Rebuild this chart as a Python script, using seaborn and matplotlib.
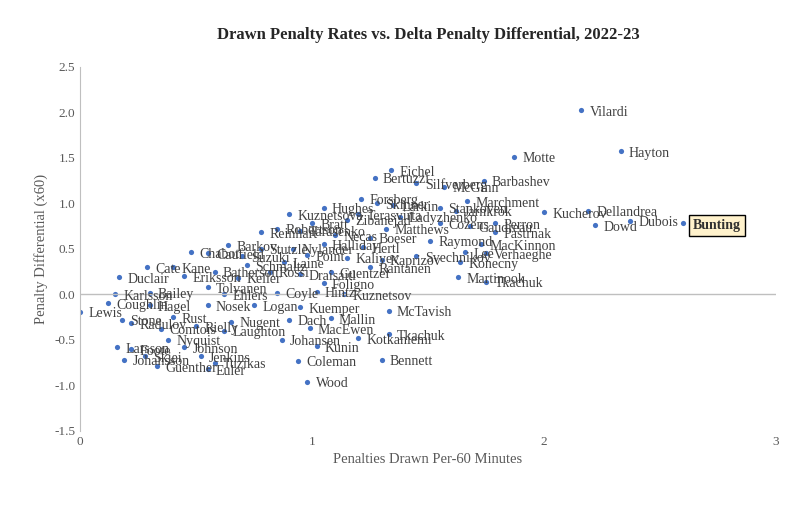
import pandas as pd
import matplotlib.pyplot as plt
import seaborn as sns

sns.set_style('white')
plt.rcParams['font.family'] = ['Liberation Serif', 'DejaVu Serif']  # 衬线字体
plt.rcParams['axes.unicode_minus'] = False


def plot_penalty_scatter(out_path: str = "out.png") -> None:
    """绘制制造犯规率与犯规差散点图"""
    # 球员数据 (每60分钟制造犯规, 犯规差)
    players = [
        ('Vilardi', 2.16, 2.02), ('Hayton', 2.33, 1.57), ('Motte', 1.87, 1.51),
        ('Dellandrea', 2.19, 0.92), ('Kucherov', 2.00, 0.90), ('Dowd', 2.22, 0.76),
        ('Dubois', 2.37, 0.81), ('Barbashev', 1.74, 1.25), ('McGinn', 1.57, 1.18),
        ('Silfverberg', 1.45, 1.22), ('Eichel', 1.34, 1.36), ('Bertuzzi', 1.27, 1.28),
        ('Marchment', 1.67, 1.02), ('Stankoven', 1.55, 0.95), ('Jarnkrok', 1.62, 0.92),
        ('Perron', 1.79, 0.78), ('Pastrnak', 1.79, 0.68), ('Cozens', 1.55, 0.78),
        ('Gaudreau', 1.68, 0.75), ('Raymond', 1.51, 0.59), ('MacKinnon', 1.73, 0.55),
        ('Verhaeghe', 1.75, 0.45), ('Lee', 1.66, 0.46), ('Konecny', 1.64, 0.35),
        ('Svechnikov', 1.45, 0.42), ('Martinook', 1.63, 0.19), ('Tkachuk', 1.75, 0.14),
        ('Forsberg', 1.21, 1.05), ('Skinner', 1.28, 1.00), ('Larkin', 1.35, 0.98),
        ('Hughes', 1.05, 0.95), ('Terasvirta', 1.20, 0.88), ('Zibanejad', 1.15, 0.82),
        ('Ladyzhenko', 1.38, 0.85), ('Matthews', 1.32, 0.72), ('Kuznetsova', 0.90, 0.88),
        ('Bratt', 1.00, 0.78), ('Robertson', 0.85, 0.72), ('Tarasenko', 0.95, 0.70),
        ('Reinhart', 0.78, 0.68), ('Necas', 1.10, 0.65), ('Boeser', 1.25, 0.62),
        ('Halliday', 1.05, 0.55), ('Hertl', 1.22, 0.52), ('Nylander', 0.92, 0.50),
        ('Barkov', 0.64, 0.54), ('Stutzle', 0.78, 0.50), ('Caufield', 0.55, 0.45),
        ('Chabot', 0.48, 0.46), ('Point', 0.98, 0.43), ('Kaliyev', 1.15, 0.40),
        ('Suzuki', 0.70, 0.42), ('Laine', 0.88, 0.35), ('Kaprizov', 1.30, 0.38),
        ('Rantanen', 1.25, 0.30), ('Schmaltz', 0.72, 0.32), ('Cate', 0.29, 0.30),
        ('Kane', 0.40, 0.30), ('Draisaitl', 0.95, 0.22), ('Duclair', 0.17, 0.19),
        ('Eriksson', 0.45, 0.20), ('Keller', 0.68, 0.18), ('Rossi', 0.82, 0.25),
        ('Guentzel', 1.08, 0.24), ('Batherson', 0.58, 0.25), ('Foligno', 1.05, 0.12),
        ('Kuznetsov', 1.14, 0.00), ('Karlsson', 0.15, 0.00), ('Bailey', 0.30, 0.02),
        ('Ehlers', 0.62, 0.00), ('Coyle', 0.85, 0.02), ('Hintz', 1.02, 0.03),
        ('Tolvanen', 0.55, 0.08), ('Lewis', 0.00, -0.19), ('Coughlin', 0.12, -0.10),
        ('Hagel', 0.30, -0.12), ('Nosek', 0.55, -0.12), ('Logan', 0.75, -0.12),
        ('Kuemper', 0.95, -0.14), ('Stone', 0.18, -0.28), ('Rust', 0.40, -0.25),
        ('Nugent', 0.65, -0.30), ('Dach', 0.90, -0.28), ('Mallin', 1.08, -0.26),
        ('Radulov', 0.22, -0.32), ('Rielly', 0.50, -0.35), ('Comtois', 0.35, -0.38),
        ('Laughton', 0.62, -0.40), ('McTavish', 1.33, -0.18), ('Tkachuk', 1.33, -0.44),
        ('Kotkaniemi', 1.20, -0.48), ('Bennett', 1.30, -0.72), ('Coleman', 0.94, -0.73),
        ('Wood', 0.98, -0.96), ('Johansen', 0.87, -0.50), ('Kunin', 1.02, -0.57),
        ('MacEwen', 0.99, -0.37), ('Nyquist', 0.38, -0.50), ('Larsson', 0.16, -0.58),
        ('Foote', 0.22, -0.60), ('Johnson', 0.45, -0.58), ('Johansson', 0.19, -0.72),
        ('Jenkins', 0.52, -0.68), ('Guenther', 0.33, -0.79), ('Tuzikas', 0.58, -0.75),
        ('Euler', 0.55, -0.82), ('Skjei', 0.28, -0.68),
    ]
    df = pd.DataFrame(players, columns=['name', 'drawn', 'diff'])

    fig, ax = plt.subplots(figsize=(8, 5.13), dpi=100)
    sns.scatterplot(data=df, x='drawn', y='diff', color='#4472C4', s=14,
                    linewidth=0, ax=ax)
    ax.scatter([2.60], [0.78], color='#4472C4', s=14, linewidth=0)  # Bunting

    for _, row in df.iterrows():
        ax.annotate(row['name'], (row['drawn'], row['diff']), xytext=(6, -4),
                    textcoords='offset points', fontsize=10, color='#404040')
    ax.annotate('Bunting', (2.60, 0.78), xytext=(7, -4), textcoords='offset points',
                fontsize=10, fontweight='bold', color='#303030',
                bbox=dict(boxstyle='square,pad=0.3', fc='#FFF2CC', ec='black', lw=1))

    ax.set_xlim(0, 3)
    ax.set_ylim(-1.5, 2.5)
    ax.set_xticks([0, 1, 2, 3])
    ax.set_yticks([-1.5, -1.0, -0.5, 0.0, 0.5, 1.0, 1.5, 2.0, 2.5])
    ax.set_yticklabels([f'{v:.1f}' for v in ax.get_yticks()])
    ax.axhline(0, color='#BFBFBF', lw=1)
    for s in ['top', 'right', 'bottom']:
        ax.spines[s].set_visible(False)
    ax.spines['left'].set_color('#BFBFBF')
    ax.tick_params(colors='#595959', labelsize=9.5, length=0)
    ax.set_title('Drawn Penalty Rates vs. Delta Penalty Differential, 2022-23',
                 fontsize=12, fontweight='bold', pad=20)
    ax.set_xlabel('Penalties Drawn Per-60 Minutes', fontsize=10.5, color='#595959')
    ax.set_ylabel('Penalty Differential (x60)', fontsize=10.5, color='#595959')
    plt.subplots_adjust(left=0.1, right=0.97, top=0.87, bottom=0.16)
    plt.savefig(out_path)
    plt.close()


plot_penalty_scatter()
